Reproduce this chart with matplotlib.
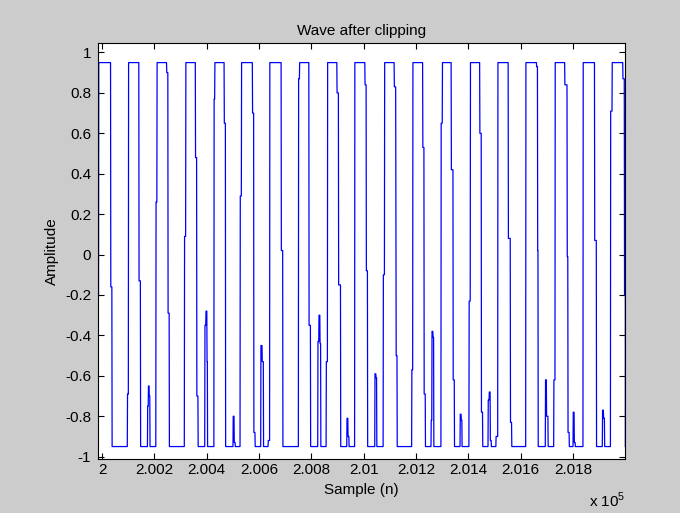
import matplotlib
matplotlib.use("Agg")
import matplotlib.pyplot as plt
import numpy as np

plt.rcParams['font.family'] = ['Liberation Sans', 'DejaVu Sans']
plt.rcParams['font.size'] = 11

# sample index (offset from 200000) and clipped amplitude
sample_offset = [
    -16, -16, -14, -13,
    32, 33, 37, 38,
    96, 97, 100, 101,
    140, 141, 146, 147,
    173, 174, 176, 177, 179, 180, 182, 183,
    205, 206, 209, 210,
    246, 247, 251, 252, 256, 257,
    314, 315, 319, 320,
    356, 357, 361, 362, 366, 367,
    392, 393, 396, 397, 400, 401, 402, 403,
    427, 428, 430, 431,
    466, 467, 471, 472,
    500, 501, 504, 505, 508, 509,
    527, 528, 532, 533,
    574, 575, 579, 580, 584, 585,
    606, 607, 611, 612, 616, 617,
    634, 635, 640, 641,
    684, 685, 690, 691,
    750, 751, 754, 755,
    790, 791, 796, 797,
    824, 825, 828, 829, 832, 833, 835, 836,
    856, 857, 861, 862,
    897, 898, 903, 904, 911, 912,
    935, 936, 939, 940, 943, 944,
    965, 966,
    1004, 1005, 1009, 1010, 1014, 1015,
    1042, 1043, 1046, 1047, 1049, 1050,
    1074, 1075, 1079, 1080,
    1116, 1117, 1122, 1124, 1127, 1128,
    1183, 1184, 1187, 1188,
    1225, 1226, 1230, 1231, 1235, 1236,
    1257, 1258, 1260, 1261, 1264, 1265, 1267, 1268,
    1295, 1296, 1300, 1301,
    1334, 1335, 1341, 1342, 1346, 1347,
    1368, 1369, 1372, 1373, 1375, 1376,
    1402, 1403, 1407, 1408,
    1443, 1444, 1449, 1450, 1454, 1455,
    1475, 1476, 1479, 1480, 1483, 1484, 1487, 1488,
    1505, 1506, 1512, 1513,
    1552, 1553, 1560, 1561, 1565, 1566,
    1619, 1620,
    1660, 1661, 1664, 1665, 1666, 1667,
    1694, 1695, 1698, 1699, 1704, 1705,
    1726, 1727, 1731, 1732,
    1768, 1769, 1777, 1778, 1780, 1781, 1785, 1786,
    1800, 1801, 1804, 1805, 1808, 1809,
    1838, 1839,
    1882, 1883, 1889, 1890,
    1912, 1913, 1916, 1917, 1920, 1921,
    1943, 1944, 1949, 1950,
    1990, 1991, 1996, 1997, 2000, 2000,
]
amplitude = [
    -0.95, -0.21, -0.21, 0.95,
    0.95, -0.16, -0.16, -0.95,
    -0.95, -0.69, -0.69, 0.95,
    0.95, -0.13, -0.13, -0.95,
    -0.95, -0.75, -0.75, -0.65, -0.65, -0.70, -0.70, -0.95,
    -0.95, 0.26, 0.26, 0.95,
    0.95, 0.90, 0.90, -0.29, -0.29, -0.95,
    -0.95, 0.09, 0.09, 0.95,
    0.95, 0.48, 0.48, -0.70, -0.70, -0.95,
    -0.95, -0.35, -0.35, -0.28, -0.28, -0.53, -0.53, -0.95,
    -0.95, 0.77, 0.77, 0.95,
    0.95, 0.65, 0.65, -0.95,
    -0.95, -0.80, -0.80, -0.93, -0.93, -0.95,
    -0.95, 0.29, 0.29, 0.95,
    0.95, 0.70, 0.70, -0.88, -0.88, -0.95,
    -0.95, -0.45, -0.45, -0.53, -0.53, -0.95,
    -0.95, -0.92, -0.92, 0.95,
    0.95, 0.02, 0.02, -0.95,
    -0.95, 0.87, 0.87, 0.95,
    0.95, -0.35, -0.35, -0.95,
    -0.95, -0.43, -0.43, -0.30, -0.30, -0.44, -0.44, -0.95,
    -0.95, -0.53, -0.53, 0.95,
    0.95, 0.80, 0.80, -0.15, -0.15, -0.95,
    -0.95, -0.81, -0.81, -0.90, -0.90, -0.95,
    -0.95, 0.95,
    0.95, 0.84, 0.84, -0.08, -0.08, -0.95,
    -0.95, -0.59, -0.59, -0.61, -0.61, -0.95,
    -0.95, -0.10, -0.10, 0.95,
    0.95, 0.83, 0.83, -0.50, -0.50, -0.95,
    -0.95, -0.57, -0.57, 0.95,
    0.95, 0.53, 0.53, -0.69, -0.69, -0.95,
    -0.95, -0.82, -0.82, -0.38, -0.38, -0.41, -0.41, -0.95,
    -0.95, 0.65, 0.65, 0.95,
    0.95, 0.42, 0.42, -0.62, -0.62, -0.95,
    -0.95, -0.79, -0.79, -0.82, -0.82, -0.95,
    -0.95, -0.23, -0.23, 0.95,
    0.95, 0.60, 0.60, -0.78, -0.78, -0.95,
    -0.95, -0.72, -0.72, -0.68, -0.68, -0.92, -0.92, -0.95,
    -0.95, -0.90, -0.90, 0.95,
    0.95, 0.08, 0.08, -0.83, -0.83, -0.95,
    -0.95, 0.95,
    0.95, 0.93, 0.93, 0.02, 0.02, -0.95,
    -0.95, -0.62, -0.62, -0.80, -0.80, -0.95,
    -0.95, -0.62, -0.62, 0.95,
    0.95, 0.84, 0.84, -0.01, -0.01, -0.88, -0.88, -0.95,
    -0.95, -0.78, -0.78, -0.93, -0.93, -0.95,
    -0.95, 0.95,
    0.95, 0.07, 0.07, -0.95,
    -0.95, -0.77, -0.77, -0.81, -0.81, -0.95,
    -0.95, 0.71, 0.71, 0.95,
    0.95, 0.87, 0.87, -0.20, -0.20, -0.95,
]

x_ticks = [200000, 200200, 200400, 200600, 200800, 201000, 201200, 201400, 201600, 201800]
x_ticklabels = ['2', '2.002', '2.004', '2.006', '2.008', '2.01', '2.012', '2.014', '2.016', '2.018']
y_ticks = [-1, -0.8, -0.6, -0.4, -0.2, 0, 0.2, 0.4, 0.6, 0.8, 1]
y_ticklabels = ['-1', '-0.8', '-0.6', '-0.4', '-0.2', '0', '0.2', '0.4', '0.6', '0.8', '1']

sample = 200000 + np.array(sample_offset)

fig = plt.figure(figsize=(6.8, 5.13), dpi=100, facecolor='#cccccc')
ax = fig.add_axes([0.1441, 0.1047, 0.7755, 0.8115])
ax.set_facecolor('white')
ax.plot(sample, amplitude, color='#0000ff', linewidth=0.9)

ax.set_xlim(sample[0], sample[-1])
ax.set_ylim(-1.013, 1.047)
ax.set_xticks(x_ticks)
ax.set_xticklabels(x_ticklabels)
ax.set_yticks(y_ticks)
ax.set_yticklabels(y_ticklabels)
ax.tick_params(direction='in', length=4, width=0.8, top=True, right=True,
               labelsize=11, pad=3)
ax.tick_params(axis='y', pad=5)
for sp in ax.spines.values():
    sp.set_linewidth(0.8)

ax.set_title('Wave after clipping', fontsize=11, pad=6)
fig.text(361.5 / 680, 1 - 490 / 513, 'Sample (n)', ha='center', va='center', fontsize=11)
fig.text(52 / 680, 1 - 251 / 513, 'Amplitude', ha='center', va='center', rotation=90, fontsize=11)
fig.text(625 / 680, 1 - 500 / 513, r'x 10$^{\mathregular{5}}$', ha='right', va='center', fontsize=11)

fig.savefig('out.png', dpi=100, facecolor=fig.get_facecolor())
